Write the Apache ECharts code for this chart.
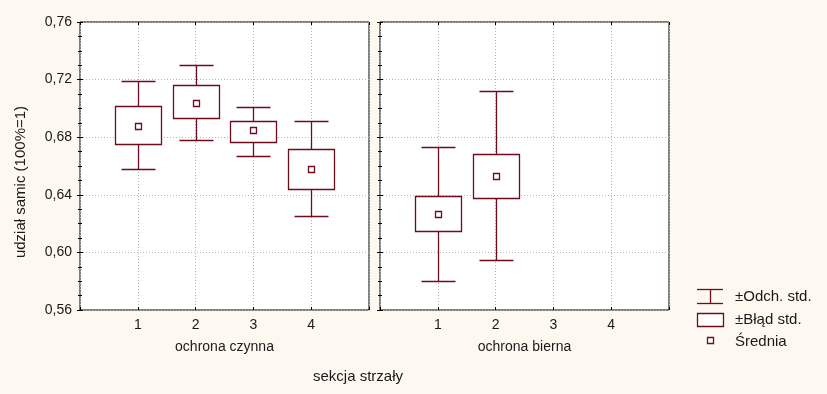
<!DOCTYPE html>
<html><head><meta charset="utf-8">
<script src="https://cdn.jsdelivr.net/npm/echarts@6/dist/echarts.min.js"></script>
<style>html,body{margin:0;padding:0;background:#FDF9F0}#c{width:827px;height:394px}</style>
</head><body><div id="c"></div>
<script>
// ---- data ----
const sectionTicks = [1, 2, 3, 4];
const czynnaSections = [1, 2, 3, 4];
const czynnaMean   = [0.688, 0.704, 0.685, 0.658];
const czynnaSeLow  = [0.675, 0.693, 0.677, 0.644];
const czynnaSeHigh = [0.702, 0.716, 0.691, 0.672];
const czynnaSdLow  = [0.658, 0.678, 0.667, 0.625];
const czynnaSdHigh = [0.719, 0.730, 0.701, 0.691];

const biernaSections = [1, 2];
const biernaMean   = [0.627, 0.653];
const biernaSeLow  = [0.615, 0.638];
const biernaSeHigh = [0.639, 0.668];
const biernaSdLow  = [0.580, 0.595];
const biernaSdHigh = [0.673, 0.712];

const groupNames = ['ochrona czynna', 'ochrona bierna'];
const yName = 'udział samic (100%=1)';
const xName = 'sekcja strzały';
const legendNames = ['±Odch. std.', '±Błąd std.', 'Średnia'];

// ---- styling ----
const MAROON = '#6E0C1C';
const FONT = 'Liberation Sans, Arial, sans-serif';
const TXT = '#1a1a1a';
const LW = 1.3;

function rows(xs, m, seL, seH, sdL, sdH) {
  return xs.map((x, i) => [x, m[i], seL[i], seH[i], sdL[i], sdH[i]]);
}
const px = v => Math.round(v) + 0.5;

function renderItem(params, api) {
  const x = api.value(0), m = api.value(1);
  const seL = api.value(2), seH = api.value(3), sdL = api.value(4), sdH = api.value(5);
  const unit = api.size([1, 0])[0];
  const bw = Math.round(unit * 0.39), cw = Math.round(unit * 0.30);
  const pM = api.coord([x, m]);
  const ySeL = px(api.coord([x, seL])[1]), ySeH = px(api.coord([x, seH])[1]);
  const ySdL = px(api.coord([x, sdL])[1]), ySdH = px(api.coord([x, sdH])[1]);
  const cx = px(pM[0]), cy = px(pM[1]);
  const ls = { stroke: MAROON, lineWidth: LW, fill: null };
  return {
    type: 'group',
    children: [
      { type: 'line', shape: { x1: cx, y1: ySdH, x2: cx, y2: ySeH }, style: ls },
      { type: 'line', shape: { x1: cx, y1: ySeL, x2: cx, y2: ySdL }, style: ls },
      { type: 'line', shape: { x1: cx - cw, y1: ySdH, x2: cx + cw, y2: ySdH }, style: ls },
      { type: 'line', shape: { x1: cx - cw, y1: ySdL, x2: cx + cw, y2: ySdL }, style: ls },
      { type: 'rect', shape: { x: cx - bw, y: ySeH, width: 2 * bw, height: ySeL - ySeH },
        style: { stroke: MAROON, lineWidth: LW, fill: '#fff' } },
      { type: 'rect', shape: { x: cx - 3, y: cy - 3, width: 6, height: 6 },
        style: { stroke: MAROON, lineWidth: LW, fill: '#fff' } }
    ]
  };
}

const gridTop = 22, gridH = 288;
const grids = [
  { left: 80, top: gridTop, width: 289, height: gridH },
  { left: 380, top: gridTop, width: 289, height: gridH }
];

function xAxes(gi) {
  return [
    {
      type: 'value', gridIndex: gi, position: 'bottom', min: 0, max: 5, interval: 1,
      axisLine: { show: false },
      axisTick: { show: true, inside: true, length: 3, lineStyle: { color: '#000' } },
      axisLabel: {
        fontSize: 14, fontFamily: FONT, color: TXT, margin: 8,
        formatter: v => (sectionTicks.indexOf(v) >= 0 ? String(v) : '')
      },
      splitLine: { show: true, lineStyle: { color: '#b5b5b5', type: [1, 2] } },
      name: groupNames[gi], nameLocation: 'middle', nameGap: 30,
      nameTextStyle: { fontSize: 14, fontFamily: FONT, color: TXT }
    },
    {
      type: 'value', gridIndex: gi, position: 'top', min: 0, max: 5, interval: 1,
      axisLine: { show: false },
      axisTick: { show: true, inside: true, length: 3, lineStyle: { color: '#000' } },
      axisLabel: { show: false }, splitLine: { show: false }
    }
  ];
}

function yAxes(gi) {
  return [
    {
      type: 'value', gridIndex: gi, position: 'left', min: 0.56, max: 0.76, interval: 0.04,
      axisLine: { show: false },
      axisTick: { show: true, inside: true, length: 3, lineStyle: { color: '#000' } },
      minorTick: { show: true, splitNumber: 4, length: 2, lineStyle: { color: '#000' } },
      axisLabel: {
        show: gi === 0, fontSize: 14, fontFamily: FONT, color: TXT, margin: 8,
        formatter: v => v.toFixed(2).replace('.', ',')
      },
      splitLine: { show: true, lineStyle: { color: '#b5b5b5', type: [1, 2] } }
    },
    {
      type: 'value', gridIndex: gi, position: 'right', min: 0.56, max: 0.76, interval: 0.04,
      axisLine: { show: false },
      axisTick: { show: true, inside: true, length: 3, lineStyle: { color: '#000' } },
      minorTick: { show: true, splitNumber: 4, length: 2, lineStyle: { color: '#000' } },
      axisLabel: { show: false }, splitLine: { show: false }
    }
  ];
}

const chart = echarts.init(document.getElementById('c'), null, { renderer: 'canvas' });
chart.setOption({
  backgroundColor: '#FDF9F0',
  animation: false,
  grid: grids.map(g => Object.assign({ show: true, backgroundColor: '#fff', borderColor: '#000', borderWidth: 1 }, g)),
  xAxis: [...xAxes(0), ...xAxes(1)],
  yAxis: [...yAxes(0), ...yAxes(1)],
  series: [
    { type: 'custom', xAxisIndex: 0, yAxisIndex: 0, renderItem, clip: false,
      data: rows(czynnaSections, czynnaMean, czynnaSeLow, czynnaSeHigh, czynnaSdLow, czynnaSdHigh) },
    { type: 'custom', xAxisIndex: 2, yAxisIndex: 2, renderItem, clip: false,
      data: rows(biernaSections, biernaMean, biernaSeLow, biernaSeHigh, biernaSdLow, biernaSdHigh) }
  ],
  graphic: [
    { type: 'text', x: 21, y: 182, rotation: Math.PI / 2,
      style: { text: yName, fontSize: 15, fontFamily: FONT, fill: TXT, align: 'center', verticalAlign: 'middle' } },
    { type: 'text', x: 358, y: 377,
      style: { text: xName, fontSize: 15, fontFamily: FONT, fill: TXT, align: 'center', verticalAlign: 'middle' } },
    // legend
    { type: 'line', shape: { x1: 697, y1: 289.5, x2: 723, y2: 289.5 }, style: { stroke: MAROON, lineWidth: LW } },
    { type: 'line', shape: { x1: 697, y1: 303.5, x2: 723, y2: 303.5 }, style: { stroke: MAROON, lineWidth: LW } },
    { type: 'line', shape: { x1: 710.5, y1: 289.5, x2: 710.5, y2: 303.5 }, style: { stroke: MAROON, lineWidth: LW } },
    { type: 'text', x: 735, y: 297, style: { text: legendNames[0], fontSize: 15, fontFamily: FONT, fill: TXT, verticalAlign: 'middle' } },
    { type: 'rect', shape: { x: 697.5, y: 313.5, width: 26, height: 13 }, style: { stroke: MAROON, lineWidth: LW, fill: '#fff' } },
    { type: 'text', x: 735, y: 320, style: { text: legendNames[1], fontSize: 15, fontFamily: FONT, fill: TXT, verticalAlign: 'middle' } },
    { type: 'rect', shape: { x: 707.5, y: 337.5, width: 6, height: 6 }, style: { stroke: MAROON, lineWidth: LW, fill: '#fff' } },
    { type: 'text', x: 735, y: 342, style: { text: legendNames[2], fontSize: 15, fontFamily: FONT, fill: TXT, verticalAlign: 'middle' } }
  ]
});
</script>
</body></html>
